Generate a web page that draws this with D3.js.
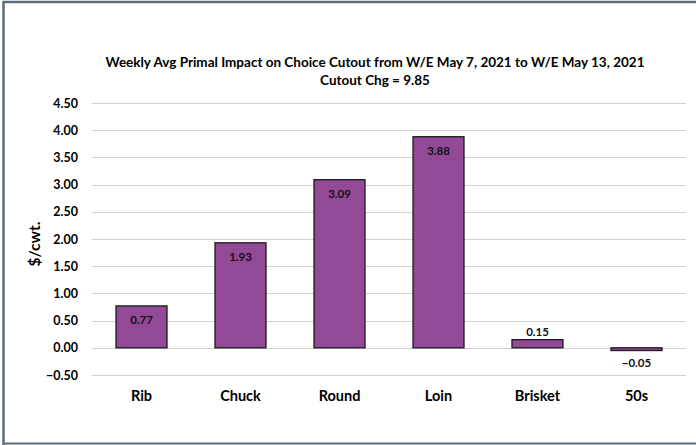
<!DOCTYPE html>
<html><head><meta charset="utf-8">
<script src="https://cdn.jsdelivr.net/npm/d3@7"></script>
<style>body{margin:0;background:#fff}svg{display:block}text{font-family:Lato,"Open Sans",sans-serif}</style>
</head><body><svg id="c" width="696" height="445"></svg>
<script>
const categories = ["Rib","Chuck","Round","Loin","Brisket","50s"];
const values = [0.77,1.93,3.09,3.88,0.15,-0.05];
const yTicks = [-0.5,0,0.5,1,1.5,2,2.5,3,3.5,4,4.5];
const titleLines = ["Weekly Avg Primal Impact on Choice Cutout from W/E May 7, 2021 to W/E May 13, 2021","Cutout Chg = 9.85"];

const svg = d3.select("#c");
// frame border
svg.append("line").attr("x1",3).attr("x2",696).attr("y1",2).attr("y2",2).attr("stroke","#5f6e7b").attr("stroke-width",2.5);
svg.append("line").attr("x1",3.5).attr("x2",3.5).attr("y1",1).attr("y2",445).attr("stroke","#5f6e7b").attr("stroke-width",2.5);
svg.append("line").attr("x1",3).attr("x2",696).attr("y1",443.5).attr("y2",443.5).attr("stroke","#5f6e7b").attr("stroke-width",2);

const x = d3.scaleBand().domain(categories).range([92,686]).paddingInner(0.485).paddingOuter(0.2425);
const y = d3.scaleLinear().domain([-0.5,4.5]).range([375,103]);

const yAxis = d3.axisLeft(y).tickValues(yTicks).tickFormat(d3.format(".2f")).tickSize(0).tickPadding(14);
const gy = svg.append("g").attr("transform","translate(92,0)").call(yAxis);
gy.select(".domain").remove();
gy.selectAll("text").attr("font-size",12.5).attr("font-weight","bold").attr("fill","#000").attr("x",-14);

svg.append("g").selectAll("line").data(yTicks).join("line")
  .attr("x1",92).attr("x2",686).attr("y1",d=>Math.round(y(d))+0.5).attr("y2",d=>Math.round(y(d))+0.5)
  .attr("stroke","#d0d0d0").attr("stroke-width",1.2);

svg.append("g").selectAll("rect").data(values).join("rect")
  .attr("x",(d,i)=>x(categories[i])).attr("width",x.bandwidth())
  .attr("y",d=>y(Math.max(0,d))).attr("height",d=>Math.abs(y(d)-y(0)))
  .attr("fill","#934a96").attr("stroke","#1a1a1a").attr("stroke-width",1.3);

svg.append("g").selectAll("text").data(values).join("text")
  .attr("x",(d,i)=>x(categories[i])+x.bandwidth()/2)
  .attr("y",d=> d>0.5 ? y(d)+18 : (d>=0 ? y(d)-4 : y(d)+16))
  .attr("text-anchor","middle").attr("font-size",11.5).attr("font-weight","bold").attr("fill","#111")
  .text(d=>d3.format(".2f")(d));

const xAxis = d3.axisBottom(x).tickSize(0).tickPadding(0);
const gx = svg.append("g").attr("transform","translate(0,391)").call(xAxis);
gx.select(".domain").remove();
gx.selectAll("text").attr("font-size",14.5).attr("font-weight","bold").attr("fill","#000");

svg.append("text").attr("transform","translate(40,244) rotate(-90)").attr("text-anchor","middle")
  .attr("font-size",15.5).attr("font-weight","bold").text("$/cwt.");

svg.append("g").selectAll("text").data(titleLines).join("text")
  .attr("x",375).attr("y",(d,i)=>67+i*18).attr("text-anchor","middle")
  .attr("font-size",13.5).attr("font-weight","bold").attr("fill","#000").text(d=>d);
</script></body></html>
